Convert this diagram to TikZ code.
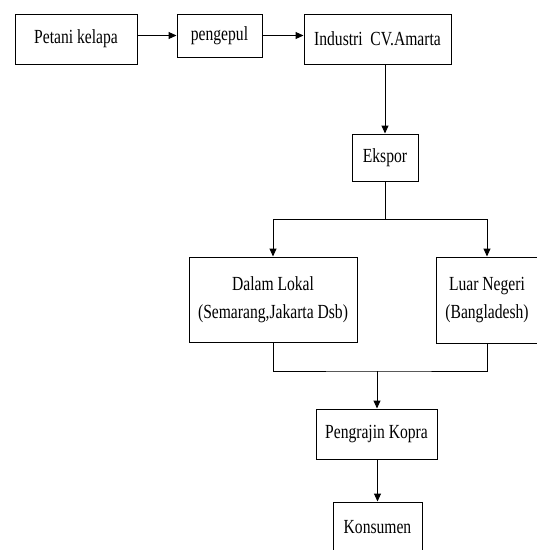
\documentclass[tikz,border=0pt]{standalone}
\usepackage{fontspec}
\setmainfont{Liberation Serif}[FakeStretch=0.78]
\usetikzlibrary{arrows.meta}

\begin{document}
\begin{tikzpicture}[x=1pt, y=-1pt,
	box/.style={draw, line width=1pt, inner sep=0pt, align=center,
		font=\fontsize{20}{28}\selectfont},
	flow/.style={line width=1pt, -{Triangle[length=8pt, width=7pt]}},
	link/.style={line width=1pt}
]
\useasboundingbox (0,0) rectangle (537,550);

% top row
\node [box, minimum width=122pt, minimum height=50pt] (petani) at (76,39) {Petani kelapa};
\node [box, minimum width=85pt, minimum height=43pt] (pengepul) at (219.5,35.5) {pengepul};
\node [box, minimum width=147pt, minimum height=50pt] (industri) at (377.5,39) {Industri~ CV.Amarta};

\node [box, minimum width=66pt, minimum height=47pt] (ekspor) at (385,157.5) {Ekspor};

% tujuan pasar
\node [box, minimum width=168pt, minimum height=85pt] (dalam) at (273,299.5)
	{Dalam Lokal\\(Semarang,Jakarta Dsb)};
\node [box, minimum width=102pt, minimum height=86pt] (luar) at (487,300)
	{Luar Negeri\\(Bangladesh)};

\node [box, minimum width=121pt, minimum height=50pt] (pengrajin) at (376.5,434) {Pengrajin Kopra};
\node [box, minimum width=89pt, minimum height=50pt] (konsumen) at (377.5,527) {Konsumen};

\coordinate (split) at (385,219);
\coordinate (merge) at (377,371);

\draw [flow] (pengepul.west -| petani.east) -- (pengepul.west);
\draw [flow] (pengepul.east) -- (pengepul.east -| industri.west);
\draw [flow] (industri.south -| ekspor.north) -- (ekspor.north);

\draw [link] (ekspor.south) -- (split);
\draw [flow] (split) -| (dalam.north);
\draw [flow] (split) -| (luar.north);

\draw [link] (dalam.south) |- (merge) -| (luar.south);
\draw [flow] (merge) -- (merge |- pengrajin.north);
\draw [flow] (pengrajin.south -| konsumen.north) -- (konsumen.north);
\end{tikzpicture}
\end{document}
